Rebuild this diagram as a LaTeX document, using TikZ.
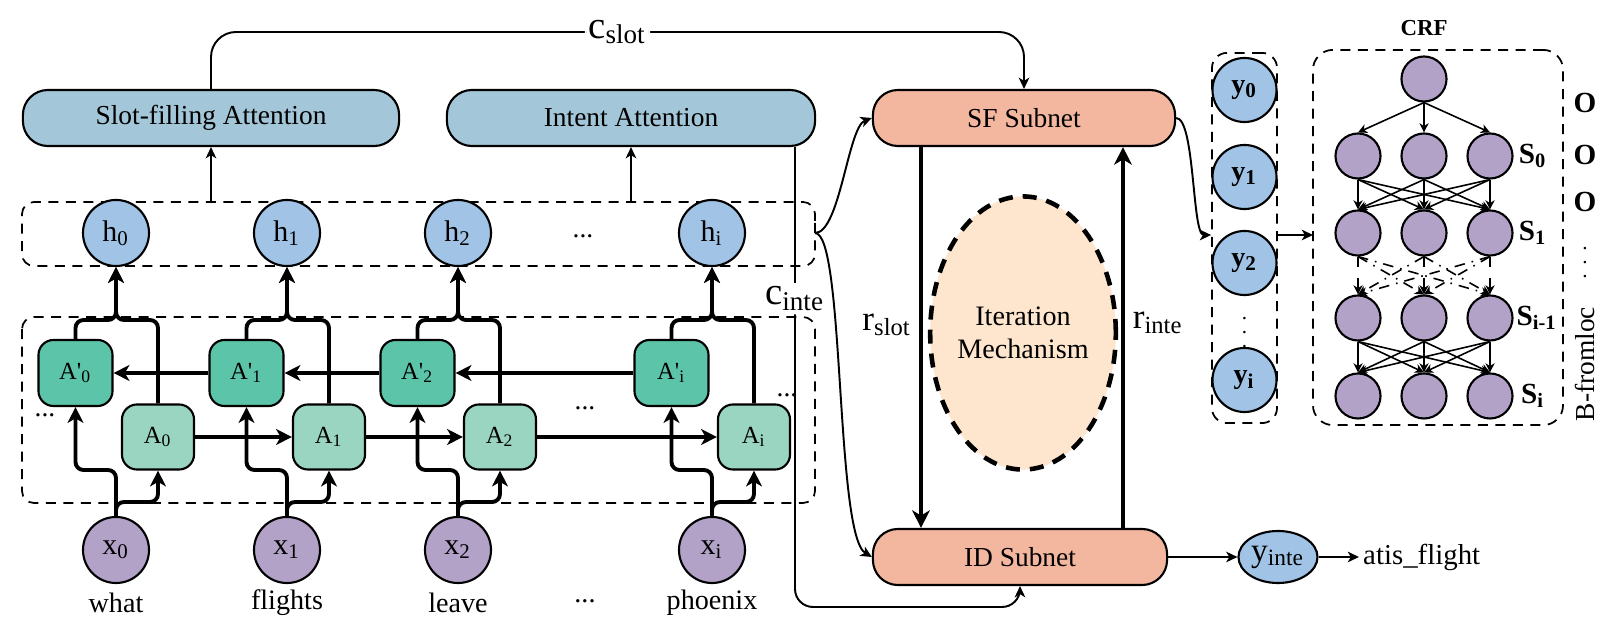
\documentclass[tikz,border=0pt]{standalone}
\usepackage{fontspec}
\setmainfont{Liberation Serif}
\usetikzlibrary{arrows.meta,shapes.geometric}

\definecolor{attblue}{RGB}{163,199,216}
\definecolor{hblue}{RGB}{161,196,230}
\definecolor{bwteal}{RGB}{92,196,168}
\definecolor{fwteal}{RGB}{153,213,193}
\definecolor{lilac}{RGB}{179,162,200}
\definecolor{salmon}{RGB}{243,183,160}
\definecolor{peach}{RGB}{253,229,206}

\tikzset{
  pill/.style={draw, line width=0.6pt, rounded corners=0.25cm, minimum height=0.56cm, inner sep=0pt},
  attbox/.style={pill, fill=attblue},
  subnet/.style={pill, fill=salmon},
  hnode/.style={circle, draw, line width=0.6pt, fill=hblue, minimum size=0.66cm, inner sep=0pt, font=\fontsize{8.5}{9}\selectfont},
  xnode/.style={hnode, fill=lilac},
  ynode/.style={circle, draw, line width=0.6pt, fill=hblue, minimum size=0.64cm, inner sep=0pt, font=\fontsize{8}{9}\selectfont\bfseries},
  bwcell/.style={draw, line width=0.6pt, rounded corners=0.15cm, fill=bwteal, minimum width=0.74cm, minimum height=0.66cm, inner sep=0pt, font=\fontsize{7}{8}\selectfont},
  fwcell/.style={bwcell, fill=fwteal, minimum width=0.72cm, minimum height=0.65cm},
  crfnode/.style={circle, draw, line width=0.6pt, fill=lilac, minimum size=0.45cm, inner sep=0pt},
  dashbox/.style={draw, line width=0.5pt, dash pattern=on 0.1cm off 0.075cm},
  lstm/.style={line width=1.1pt, rounded corners=0.08cm, -{Stealth[length=4.5pt,width=4.5pt,inset=1.3pt]}},
  bigarr/.style={line width=1.4pt, -{Stealth[length=5pt,width=5pt,inset=1.5pt]}},
  thinarr/.style={line width=0.55pt, -{Stealth[length=3.2pt,width=3pt,inset=0.9pt]}},
  crfarr/.style={line width=0.45pt, -{Stealth[length=2.6pt,width=2.6pt,inset=0.8pt]}},
  ctx/.style={fill=white, inner sep=1pt, font=\fontsize{11}{12}\selectfont},
  rlabel/.style={font=\fontsize{10}{11}\selectfont},
  word/.style={font=\fontsize{8}{9}\selectfont},
  tag/.style={font=\fontsize{8.3}{9}\selectfont\bfseries},
  vdot/.style={inner sep=0pt, font=\fontsize{6}{6}\selectfont}
}

\begin{document}
\begin{tikzpicture}[x=0.01cm, y=-0.01cm, font=\fontsize{7.8}{9}\selectfont]
  \path[use as bounding box, fill=white] (0,0) rectangle (1614,637);

  % attention and subnets
  \node[attbox, minimum width=3.76cm] (SA) at (211,118) {Slot-filling Attention};
  \node[attbox, minimum width=3.68cm] (IA) at (631,118) {Intent Attention};
  \node[subnet, minimum width=3.02cm] (SF) at (1024,118) {SF Subnet};
  \node[subnet, minimum width=2.94cm] (ID) at (1020,557) {ID Subnet};
  \node[ellipse, draw, fill=peach, line width=1.3pt, dash pattern=on 0.14cm off 0.1cm,
    minimum width=1.84cm, minimum height=2.73cm, inner sep=0pt, align=center,
    font=\fontsize{8}{9.2}\selectfont] (iter) at (1023,333) {Iteration\\Mechanism};

  % dashed groups
  \coordinate (hbrace) at (815,233);
  \coordinate (hboxtop) at (0,202);
  \draw[dashbox, rounded corners=0.12cm] (hbrace) -- (815,202) -- (22,202) -- (22,266) -- (815,266) -- cycle;
  \draw[dashbox, rounded corners=0.12cm] (22,317) rectangle (815,503);

  % bi-lstm
  \foreach \px/\k in {116/0,287/1,458/2,712/i}{
    \node[hnode] (h\k) at (\px,233) {h\textsubscript{\k}};
    \node[bwcell] (Ap\k) at (\px-40.5,373) {A\textquotesingle\textsubscript{\k}};
    \node[fwcell] (A\k) at (\px+42,437) {A\textsubscript{\k}};
    \node[xnode] (x\k) at (\px,550) {x\textsubscript{\k}};
    \draw[lstm] (x\k.north) -- (\px,470) -| (Ap\k.south);
    \draw[lstm] (x\k.north) -- (\px,502) -| (A\k.south);
    \draw[lstm] (Ap\k.north) -- (\px-40.5,320) -| (h\k.south);
    \draw[lstm] (A\k.north) -- (\px+42,320) -| (h\k.south);
  }
  \draw[lstm] (Ap1) -- (Ap0);
  \draw[lstm] (Ap2) -- (Ap1);
  \draw[lstm] (Api) -- (Ap2);
  \draw[lstm] (A0) -- (A1);
  \draw[lstm] (A1) -- (A2);
  \draw[lstm] (A2) -- (Ai);

  \node (hdots) at (583,236) {...};
  \node (ldots) at (45,415) {...};
  \node (mdots) at (585,408) {...};
  \node (rdots) at (787,395) {...};

  \node[word] (what) at (116,603) {what};
  \node[word] (flights) at (287,603) {flights};
  \node[word] (leave) at (458,603) {leave};
  \node[word] (wdots) at (585,601) {...};
  \node[word] (phoenix) at (712,603) {phoenix};

  % attention inputs and contexts
  \draw[thinarr] (SA.south |- hboxtop) -- (SA.south);
  \draw[thinarr] (IA.south |- hboxtop) -- (IA.south);
  \draw[thinarr, rounded corners=0.25cm] (SA.north) -- (SA.north |- 0,32)
    -- node[ctx] (cslot) {c\textsubscript{slot}} (SF.north |- 0,32) -- (SF.north);
  \draw[thinarr, rounded corners=0.18cm] (IA.south -| 795,0)
    -- node[ctx, pos=0.33] (cinte) {c\textsubscript{inte}} (795,607) -| (ID.south);
  \draw[thinarr] (hbrace) .. controls (840,233) and (848,127) .. (SF.west);
  \draw[thinarr] (hbrace) .. controls (845,233) and (835,535) .. (ID.west);

  % iteration
  \draw[bigarr] (SF.south -| 921,0) -- (ID.north -| 921,0);
  \draw[bigarr] (ID.north -| 1123,0) -- (SF.south -| 1123,0);
  \node[rlabel] (rslot) at (887,325) {r\textsubscript{slot}};
  \node[rlabel] (rinte) at (1158,323) {r\textsubscript{inte}};

  % slot outputs
  \node[dashbox, rounded corners=0.15cm, minimum width=0.65cm, minimum height=3.7cm] (ybox) at (1244.5,238) {};
  \node[ynode] (y0) at (1244.5,90) {y\textsubscript{0}};
  \node[ynode] (y1) at (1244.5,177) {y\textsubscript{1}};
  \node[ynode] (y2) at (1244.5,263) {y\textsubscript{2}};
  \node[vdot] (ydots) at (1244.5,322) {$\vdots$};
  \node[ynode] (yi) at (1244.5,380) {y\textsubscript{i}};
  \draw[thinarr] (SF.east) .. controls (1195,118) and (1192,235) .. (ybox.west |- 0,235);
  \draw[thinarr] (ybox.east |- 0,235) -- (1313,235);

  % crf
  \node[dashbox, rounded corners=0.2cm, minimum width=2.5cm, minimum height=3.75cm] (crf) at (1438,237.5) {};
  \node[font=\fontsize{6.5}{7}\selectfont\bfseries] (crflabel) at (1424,28) {CRF};
  \node[crfnode] (top) at (1424,79) {};
  \foreach \r/\yy in {0/156,1/233,2/318,3/396}
    \foreach \c/\xx in {1/1358,2/1424,3/1490}
      \node[crfnode] (s\r\c) at (\xx,\yy) {};
  \foreach \c in {1,2,3}
    \draw[crfarr] (top.south) -- (s0\c.north);
  \foreach \r/\n in {0/1,2/3}
    \foreach \a in {1,2,3}
      \foreach \b in {1,2,3}
        \draw[crfarr] (s\r\a.south) -- (s\n\b.north);
  \foreach \a in {1,2,3}
    \draw[crfarr, dashed] (s1\a.south) -- (s2\a.north);
  \foreach \a/\b in {1/2,1/3,2/1,2/3,3/1,3/2}
    \draw[crfarr, dash dot] (s1\a.south) -- (s2\b.north);

  \node[tag] (l0) at (1533,156) {S\textsubscript{0}};
  \node[tag] (l1) at (1533,233) {S\textsubscript{1}};
  \node[tag] (l2) at (1537,318) {S\textsubscript{i-1}};
  \node[tag] (l3) at (1533,396) {S\textsubscript{i}};

  \node[tag] (o0) at (1585,103) {O};
  \node[tag] (o1) at (1585,155) {O};
  \node[tag] (o2) at (1585,202) {O};
  \node[vdot] (odots) at (1585,252) {$\vdots$};
  \node[rotate=90] (bloc) at (1585,364) {B-fromloc};

  % intent output
  \node[ellipse, draw, line width=0.6pt, fill=hblue, minimum width=0.79cm, minimum height=0.52cm,
    inner sep=0pt, font=\fontsize{9.5}{10}\selectfont] (yinte) at (1278,557) {y\textsubscript{inte}};
  \node[anchor=west, inner sep=1pt, font=\fontsize{8.2}{9}\selectfont] (atis) at (1359,557) {atis\_flight};
  \draw[thinarr] (ID.east) -- (yinte.west);
  \draw[thinarr] (yinte.east) -- (atis.west);
\end{tikzpicture}
\end{document}
